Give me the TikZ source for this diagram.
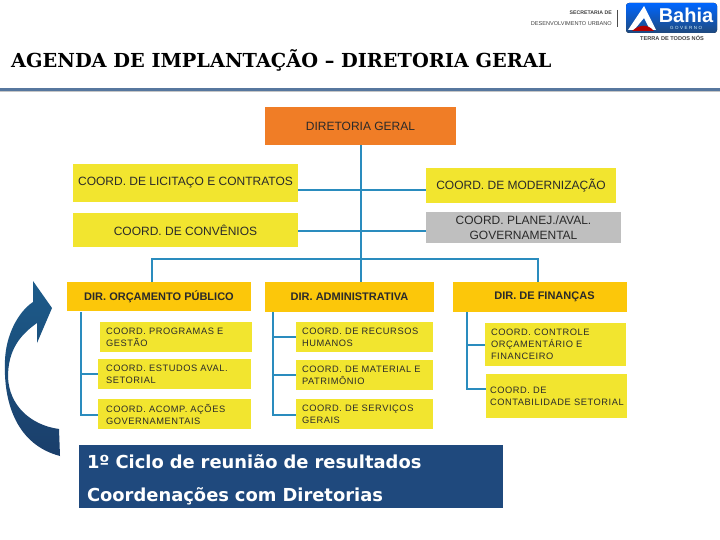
\documentclass[tikz,border=0pt]{standalone}
\usepackage{fontspec}
\setmainfont{Liberation Sans}
\newfontfamily\widefont[LetterSpace=6]{Liberation Sans}
\newfontfamily\headfont{DejaVu Serif}
\newfontfamily\ciclofont{DejaVu Sans}
\definecolor{orangeB}{HTML}{F07D26}
\definecolor{yellowB}{HTML}{F2E52F}
\definecolor{goldB}{HTML}{FCC70A}
\definecolor{greyB}{HTML}{BFBFBF}
\definecolor{lineB}{HTML}{2A8CBE}
\definecolor{navyB}{HTML}{1F497D}
\definecolor{txtB}{HTML}{2A2A2A}
\tikzset{
  boxb/.style={inner sep=0pt,text=txtB,align=center,font=\fontsize{12}{15}\selectfont},
  coordb/.style={boxb,fill=yellowB},
  dirb/.style={boxb,fill=goldB,font=\fontsize{11}{13}\bfseries\selectfont},
  smallb/.style={inner sep=0pt,fill=yellowB,text=txtB,align=left,font=\widefont\fontsize{9.3}{12}\selectfont},
  wire/.style={draw=lineB,line width=2pt,line join=miter},
}
\begin{document}
\begin{tikzpicture}[x=1pt,y=-1pt]
\useasboundingbox (0,0) rectangle (720,540);
\fill[white] (0,0) rectangle (720,540);

% title
\node[anchor=west,inner sep=0pt,font=\headfont\fontsize{19.3}{21}\bfseries\selectfont] (title) at (11,60) {AGENDA DE IMPLANTAÇÃO – DIRETORIA GERAL};
\fill[gray!45] (0,91) rectangle (720,92.5);
\fill[navyB!75!white] (0,88.5) rectangle (720,91);

% logo
\node[anchor=east,inner sep=0pt,font=\fontsize{5.2}{6}\bfseries\selectfont,text=black!75] (sec1) at (612,13) {SECRETARIA DE};
\node[anchor=east,inner sep=0pt,font=\fontsize{5.6}{6}\selectfont,text=black!75] (sec2) at (612,23.5) {DESENVOLVIMENTO URBANO};
\draw[black!70,line width=.6pt] (617,10) -- (617,27);
\fill[rounded corners=3pt,top color=blue!60!cyan,bottom color=navyB] (626,3) rectangle (717,33);
\fill[white] (628,30) -- (644,6) -- (656,30) -- (650,30) -- (644,18) -- (634,30) -- cycle;
\fill[red!70!black] (632,31) .. controls (640,24) and (648,24) .. (654,31) -- cycle;
\node[inner sep=0pt,font=\fontsize{20}{20}\bfseries\selectfont,text=white] (bahia) at (686,15) {Bahia};
\node[inner sep=0pt,font=\fontsize{4.5}{5}\selectfont,text=white!85!cyan] (gov) at (686,28) {G\,\,O\,\,V\,\,E\,\,R\,\,N\,\,O};
\node[inner sep=0pt,font=\fontsize{5.6}{6}\bfseries\selectfont,text=black!75] (terra) at (672,38) {TERRA DE TODOS NÓS};

% boxes
\node[boxb,fill=orangeB,minimum width=191pt,minimum height=38pt] (dg) at (360.5,126) {DIRETORIA GERAL};
\node[coordb,minimum width=225pt,minimum height=38pt] (lic) at (185.5,183) {COORD. DE LICITAÇO E CONTRATOS};
\node[coordb,minimum width=225pt,minimum height=34pt] (conv) at (185.5,230) {COORD. DE CONVÊNIOS};
\node[coordb,minimum width=190pt,minimum height=35pt] (mod) at (521,185.5) {COORD. DE MODERNIZAÇÃO};
\node[boxb,fill=greyB,minimum width=195pt,minimum height=30pt] (pla) at (523.5,227.5) {COORD. PLANEJ./AVAL.\\GOVERNAMENTAL};

\node[dirb,minimum width=184pt,minimum height=29pt] (orc) at (159,296.5) {DIR. ORÇAMENTO PÚBLICO};
\node[dirb,minimum width=169pt,minimum height=30pt] (adm) at (349.5,297) {DIR. ADMINISTRATIVA};
\node[dirb,minimum width=174pt,minimum height=30pt] (fin) at (540,297) {\hspace{9pt}DIR. DE FINANÇAS};

\node[smallb,minimum width=152pt,minimum height=30pt,text width=140pt] (prog) at (176,337) {COORD. PROGRAMAS E\\GESTÃO};
\node[smallb,minimum width=153pt,minimum height=30pt,text width=137pt] (est) at (174.5,374) {COORD. ESTUDOS  AVAL.\\SETORIAL};
\node[smallb,minimum width=153pt,minimum height=30pt,text width=137pt] (aco) at (174.5,414) {COORD. ACOMP. AÇÕES\\GOVERNAMENTAIS};
\node[smallb,minimum width=137pt,minimum height=30pt,text width=125pt] (rh) at (364.5,337) {COORD. DE RECURSOS\\HUMANOS};
\node[smallb,minimum width=137pt,minimum height=30pt,text width=125pt] (mat) at (364.5,375) {COORD. DE MATERIAL E\\PATRIMÔNIO};
\node[smallb,minimum width=137pt,minimum height=30pt,text width=125pt] (ser) at (364.5,414) {COORD. DE SERVIÇOS\\GERAIS};
\node[smallb,minimum width=141pt,minimum height=43pt,text width=129pt] (ctr) at (555.5,344.5) {COORD. CONTROLE\\ORÇAMENTÁRIO E\\FINANCEIRO};
\node[smallb,minimum width=141pt,minimum height=44pt,text width=133pt] (con) at (556.5,396) {COORD. DE\\CONTABILIDADE SETORIAL};

\node[fill=navyB,text=white,minimum width=424pt,minimum height=63pt,inner sep=0pt,align=left,text width=408pt,
  font=\ciclofont\fontsize{17.9}{33}\bfseries\selectfont] (cic) at (291,476.5) {\rule{0pt}{20pt}1º Ciclo de reunião de resultados\\Coordenações com Diretorias};

% junctions
\coordinate (busL) at (152,259);
\coordinate (busR) at (538,259);
\coordinate (jA) at (360.5,190);
\coordinate (jB) at (360.5,231);
\coordinate (tO) at (81,312);
\coordinate (tA) at (273,312);
\coordinate (tF) at (467,312);

% connectors
\draw[wire] (dg.south) -- (dg.south |- orc.north);
\draw[wire] (lic.east |- jA) -- (mod.west |- jA);
\draw[wire] (conv.east |- jB) -- (pla.west |- jB);
\draw[wire] (orc.north -| busL) -- (busL) -- (busR) -- (fin.north -| busR);
\draw[wire] (tO) -- (tO |- 0,415) -- (aco.west |- 0,415);
\draw[wire] (tO |- est.west) -- (est.west);
\draw[wire] (tA) -- (tA |- 0,415) -- (ser.west |- 0,415);
\draw[wire] (tA |- rh.west) -- (rh.west);
\draw[wire] (tA |- mat.west) -- (mat.west);
\draw[wire] (tF) -- (tF |- 0,389) -- (con.west |- 0,389);
\draw[wire] (tF |- ctr.west) -- (ctr.west);

% arrow
\path[top color=navyB!90!cyan,bottom color=navyB!85!black,draw=none]
  (60,456) .. controls (18,445) and (3,405) .. (5,360)
  .. controls (6,335) and (18,312) .. (33,302)
  -- (33,281) -- (52,308) -- (37,343) -- (37,323)
  .. controls (20,335) and (8,350) .. (8,377)
  .. controls (9,405) and (30,425) .. (59,429) -- cycle;
\end{tikzpicture}
\end{document}
